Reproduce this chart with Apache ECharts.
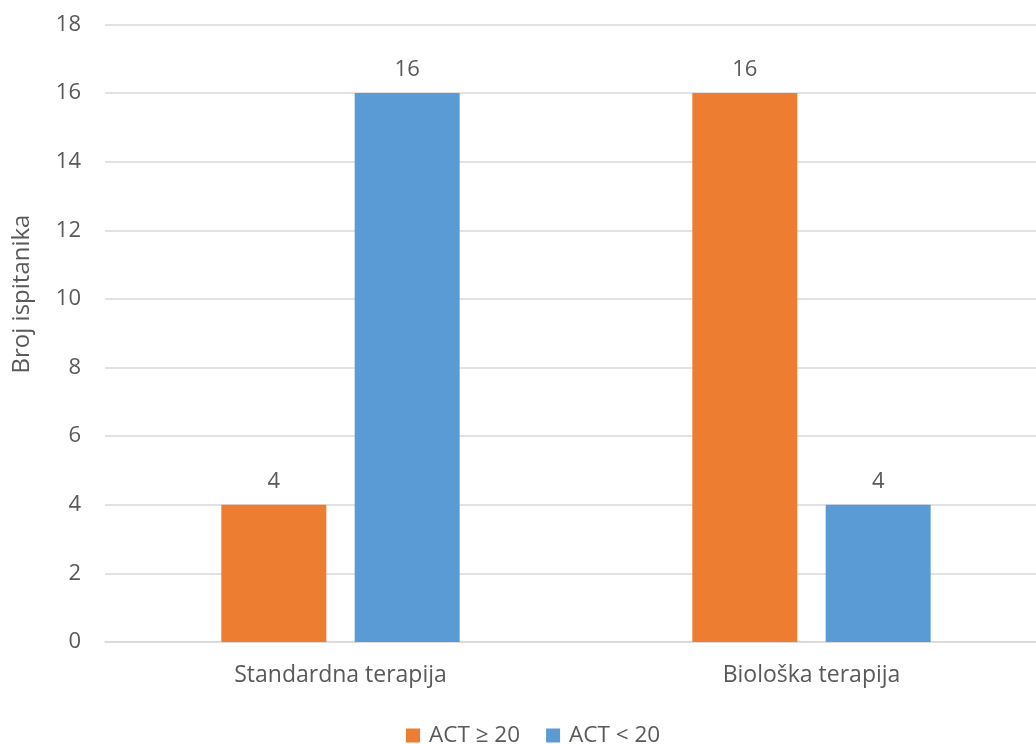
<!DOCTYPE html>
<html><head><meta charset="utf-8">
<script src="https://cdn.jsdelivr.net/npm/echarts@6/dist/echarts.min.js"></script>
<style>html,body{margin:0;padding:0;background:#fff}#c{width:1036px;height:744px}</style>
</head><body><div id="c"></div>
<script>
var categories = ['Standardna terapija', 'Biološka terapija'];
var seriesNames = ['ACT ≥ 20', 'ACT < 20'];
var actHigh = [4, 16];
var actLow = [16, 4];
var yTitle = 'Broj ispitanika';

var FONT = '"Open Sans", sans-serif';
var TXT = '#595959';
var FS = 23;
var chart = echarts.init(document.getElementById('c'));
chart.setOption({
  animation: false,
  textStyle: {fontFamily: FONT},
  grid: {left: 105, right: -11, top: 24.5, bottom: 102, containLabel: false, outerBoundsMode: 'none'},
  legend: {
    top: 724, left: 406, padding: 0, itemWidth: 14, itemHeight: 14, itemGap: 26,
    icon: 'rect',
    textStyle: {fontFamily: FONT, fontSize: 22.5, color: TXT, padding: [0, 0, 0, 4]}
  },
  graphic: [{
    type: 'text', rotation: Math.PI / 2, x: 22, y: 294,
    style: {text: yTitle, fontFamily: FONT, fontSize: 24, fill: TXT, align: 'center', verticalAlign: 'middle'}
  }],
  xAxis: {
    type: 'category', data: categories,
    axisLine: {lineStyle: {color: '#d9d9d9', width: 1.5}},
    axisTick: {show: false},
    axisLabel: {fontFamily: FONT, fontSize: FS, color: TXT, margin: 22}
  },
  yAxis: {
    type: 'value', min: 0, max: 18, interval: 2,
    axisLine: {show: false}, axisTick: {show: false},
    splitLine: {lineStyle: {color: '#d9d9d9', width: 1.5}},
    axisLabel: {fontFamily: FONT, fontSize: 22, color: TXT, margin: 24}
  },
  series: [
    {name: seriesNames[0], type: 'bar', data: actHigh, barWidth: 105, barGap: '27%',
     itemStyle: {color: '#ED7D31'},
     label: {show: true, position: 'top', distance: 12, fontFamily: FONT, fontSize: 22, color: TXT}},
    {name: seriesNames[1], type: 'bar', data: actLow, barWidth: 105,
     itemStyle: {color: '#5B9BD5'},
     label: {show: true, position: 'top', distance: 12, fontFamily: FONT, fontSize: 22, color: TXT}}
  ]
});
</script></body></html>
